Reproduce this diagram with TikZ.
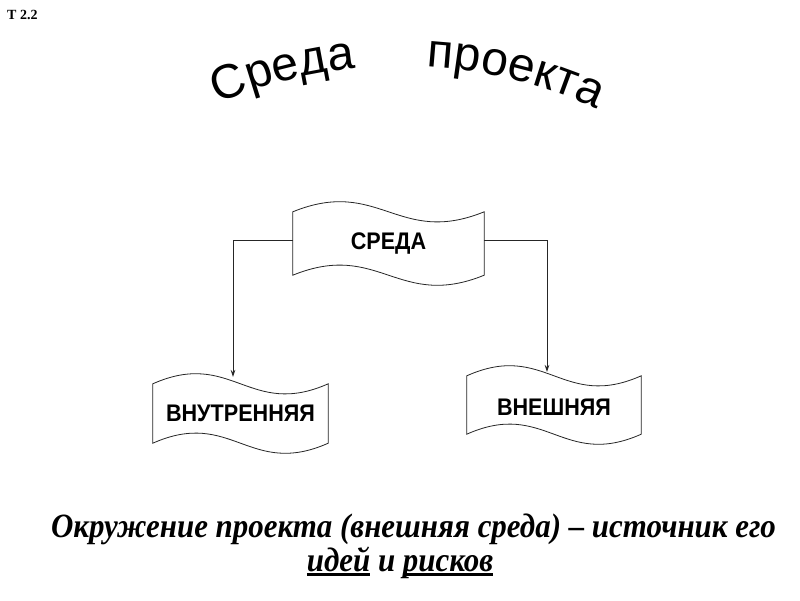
\documentclass[tikz,border=0pt]{standalone}
\usepackage{fontspec}
\usetikzlibrary{calc,decorations.text,arrows.meta}
\newfontfamily\titlef{Liberation Sans}
\newfontfamily\boxf[FakeStretch=0.9]{Liberation Sans}
\newfontfamily\timesf{Liberation Serif}
\newfontfamily\capf[FakeStretch=0.91]{Liberation Serif}
\newcommand\myul[1]{\setbox0\hbox{#1}\rlap{\rule[-4.5pt]{\wd0}{2.2pt}}\box0\relax}
\newcommand\drawwave[2]{%
  \draw[waveline] (#1.north west)
    .. controls ($(#1.north west)!0.45!(#1.north east)+(0,#2)$) and ($(#1.north west)!0.55!(#1.north east)+(0,-#2)$) .. (#1.north east)
    -- (#1.south east)
    .. controls ($(#1.south west)!0.55!(#1.south east)+(0,-#2)$) and ($(#1.south west)!0.45!(#1.south east)+(0,#2)$) .. (#1.south west)
    -- cycle;}
\begin{document}
\begin{tikzpicture}[x=1pt,y=1pt,
  wavebox/.style={inner sep=0pt, font=\boxf\bfseries\fontsize{24}{24}\selectfont},
  waveline/.style={draw=black!85, line width=0.8pt, fill=white},
  conn/.style={draw=black!85, line width=0.8pt, -{Stealth[length=7pt,width=4.5pt]}},
  captext/.style={anchor=base, inner sep=0pt, font=\capf\bfseries\itshape\fontsize{34}{34}\selectfont}]
\useasboundingbox[fill=white] (0,0) rectangle (800,600);
% label
\node[anchor=base west, inner sep=0pt, font=\timesf\bfseries\fontsize{14}{14}\selectfont] (lbl) at (7,580) {Т 2.2};
% title
\coordinate (cen) at (401,69);
\path[decorate, decoration={text along path, text align=left,
  text={|\titlef\fontsize{48}{48}\selectfont|Среда}}]
  ($(cen)+(113.2:465)$) arc[start angle=113.2, end angle=85, radius=465];
\path[decorate, decoration={text along path, text align=left,
  text={|\titlef\fontsize{48}{48}\selectfont|проекта}}]
  ($(cen)+(86.8:465)$) arc[start angle=86.8, end angle=50, radius=465];
% boxes
\node[wavebox, minimum width=191, minimum height=63] (sreda) at (388.5,356.5) {};
\drawwave{sreda}{35}
\node[wavebox] at (sreda.center) {СРЕДА};
\node[wavebox, minimum width=175, minimum height=59] (inner) at (240.5,186.5) {};
\drawwave{inner}{35}
\node[wavebox] at (inner.center) {ВНУТРЕННЯЯ};
\node[wavebox, minimum width=174, minimum height=58] (outer) at (554,195) {};
\drawwave{outer}{35}
\node[wavebox] at ([yshift=-2]outer.center) {ВНЕШНЯЯ};
% connectors
\coordinate (tipL) at (233,223);
\coordinate (tipR) at (547,228);
\draw[conn] ([yshift=3.5]sreda.west) -| (tipL);
\draw[conn] ([yshift=3.5]sreda.east) -| (tipR);
% bottom text
\node[captext] (cap1) at (413.5,63) {Окружение проекта (внешняя среда) – источник его};
\node[captext] (cap2) at (400,29) {\myul{идей} и \myul{рисков}};
\end{tikzpicture}
\end{document}
